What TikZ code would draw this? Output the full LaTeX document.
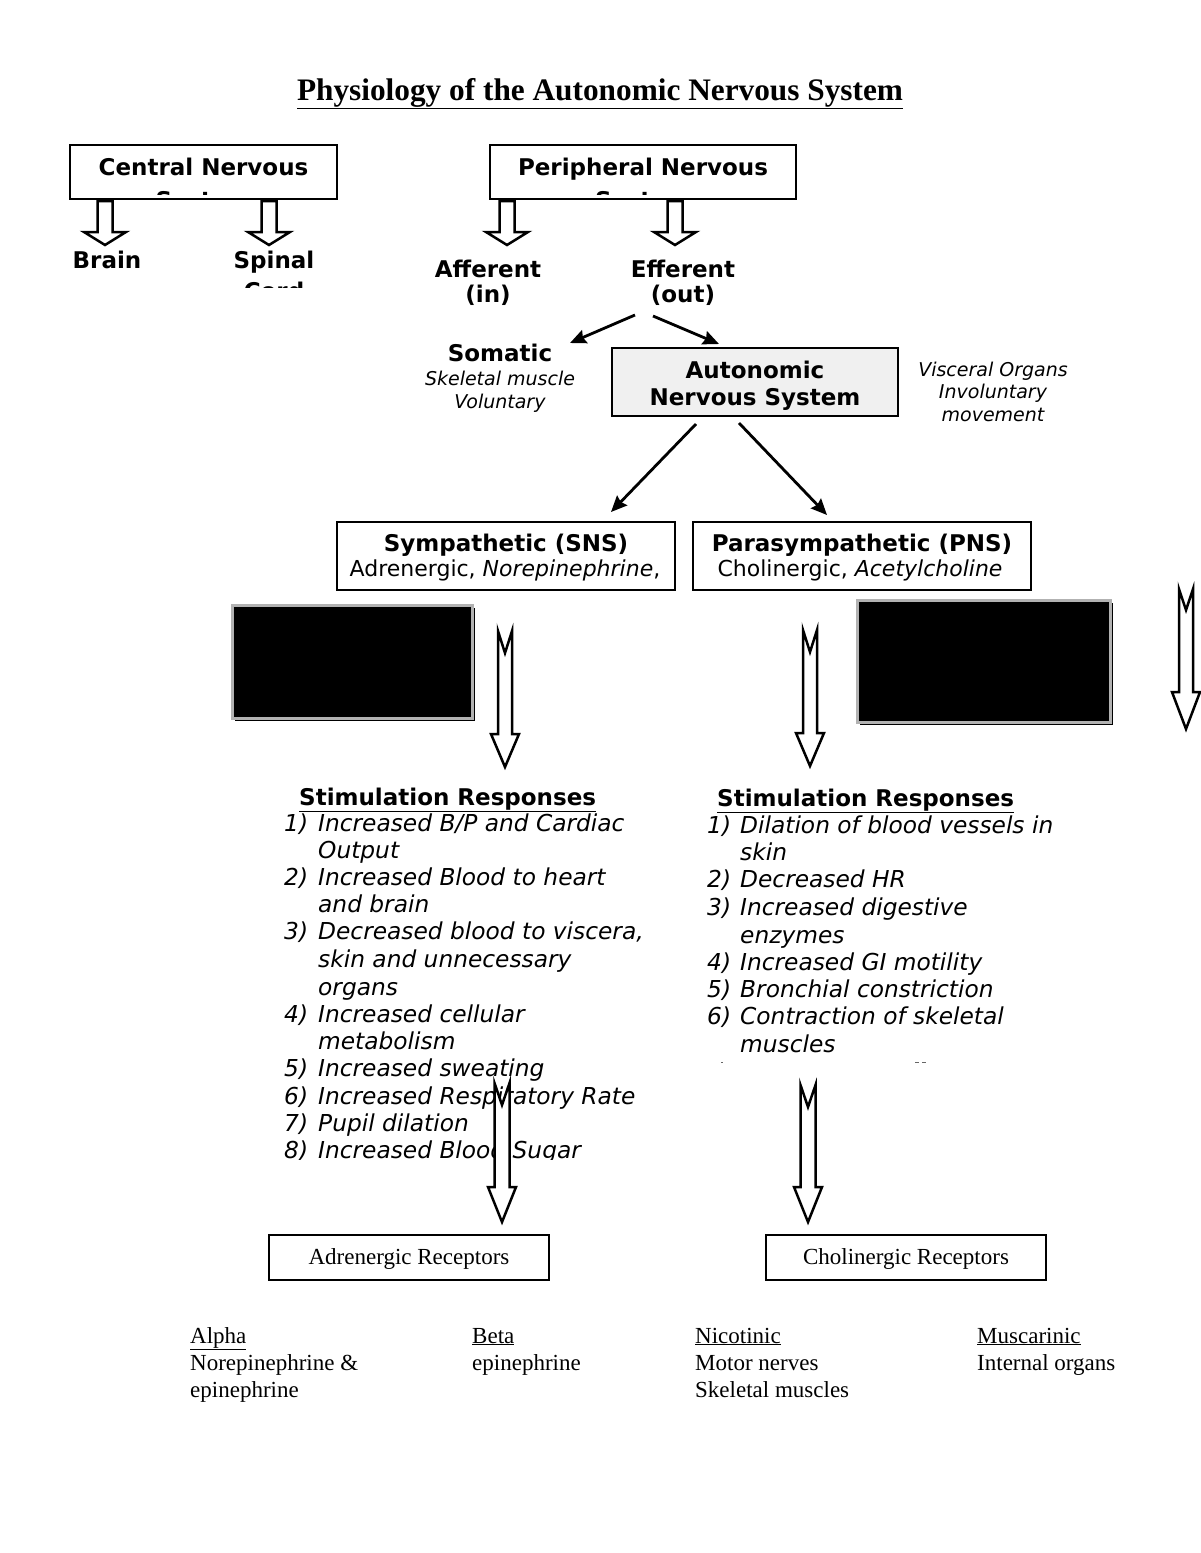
\documentclass[tikz,border=0pt]{standalone}
\usepackage{fontspec}
\setmainfont{DejaVu Sans}
\newfontfamily\serifTNR{Liberation Serif}
\usetikzlibrary{arrows.meta}
\newcommand\myB{\fontsize{23}{27}\selectfont\bfseries}
\newcommand\myI{\fontsize{23.3}{27}\selectfont\itshape}
\newcommand\myS{\fontsize{19}{23}\selectfont\itshape}
\newcommand\myR{\fontsize{22}{26}\selectfont}
\newcommand\myT{\serifTNR\fontsize{23}{27}\selectfont}
% block arrow: cx, ytop, yshoulder, ytip, shaft half width, head half width
\newcommand\BlkArrow[6]{\draw[blk] (#1-#5,#2) -- (#1+#5,#2) -- (#1+#5,#3) -- (#1+#6,#3) -- (#1,#4) -- (#1-#6,#3) -- (#1-#5,#3) -- cycle;}
% notched arrow: cx, ytop, notch, yshoulder, ytip, shaft hw, head hw
\newcommand\NotchArrow[7]{\draw[blk] (#1-#6,#2) -- (#1,#2+#3) -- (#1+#6,#2) -- (#1+#6,#4) -- (#1+#7,#4) -- (#1,#5) -- (#1-#7,#4) -- (#1-#6,#4) -- cycle;}
\begin{document}
\begin{tikzpicture}[x=1pt,y=-1pt,
  txt/.style={inner sep=0pt, anchor=base},
  txtl/.style={inner sep=0pt, anchor=base west},
  box/.style={draw, line width=2.8pt, inner sep=0pt},
  blk/.style={draw=black, fill=white, line width=2.5pt, line join=miter, miter limit=20},
  darr/.style={line width=2.8pt, -{Stealth[length=16pt,width=14pt,inset=2pt]}}]
\useasboundingbox (0,0) rectangle (1200,1553);
\fill[white] (0,0) rectangle (1200,1553);

% title
\node[txt] (title) at (600,100) {\serifTNR\fontsize{31.3}{38}\selectfont\bfseries\underline{Physiology of the Autonomic Nervous System}};

% CNS
\node[box, minimum width=267pt, minimum height=54pt] (cns) at (203.5,172) {};
\node[txt] (cnst) at (203.5,175) {\myB Central Nervous};
\begin{scope}
  \clip (70,146) rectangle (337,194);
  \node[txt] (cnss) at (203.5,208) {\myB System};
\end{scope}
\BlkArrow{105}{201}{232}{245}{7.5}{21}
\BlkArrow{269}{201}{232}{245}{7.5}{21}
\node[txt] (brain) at (107,268) {\myB Brain};
\node[txt] (spinal) at (274,268) {\myB Spinal};
\begin{scope}
  \clip (200,270) rectangle (340,287);
  \node[txt] (cord) at (274,299) {\myB Cord};
\end{scope}

% PNS
\node[box, minimum width=306pt, minimum height=54pt] (pns) at (643,172) {};
\node[txt] (pnst) at (643,175) {\myB Peripheral Nervous};
\begin{scope}
  \clip (490,146) rectangle (796,194);
  \node[txt] (pnss) at (643,208) {\myB System};
\end{scope}
\BlkArrow{507}{201}{232}{245}{7.5}{21}
\BlkArrow{675}{201}{232}{245}{7.5}{21}
\node[txt] (aff) at (488,277) {\myB Afferent};
\node[txt] (affin) at (488,302) {\myB (in)};
\node[txt] (eff) at (683,277) {\myB Efferent};
\node[txt] (effout) at (683,302) {\myB (out)};

% somatic
\node[txt] (som) at (500,361) {\myB Somatic};
\node[txt] (som1) at (500,385) {\myS Skeletal muscle};
\node[txt] (som2) at (500,408) {\myS Voluntary};

% ANS
\node[box, fill=black!6, minimum width=286pt, minimum height=68pt] (ans) at (755,382) {};
\node[txt] (ans1) at (755,378) {\myB Autonomic};
\node[txt] (ans2) at (755,405) {\myB Nervous System};
\node[txt] (visc1) at (993,376) {\myS Visceral Organs};
\node[txt] (visc2) at (993,398) {\myS Involuntary};
\node[txt] (visc3) at (993,421) {\myS movement};

\coordinate (e1) at (635,315);
\coordinate (s1) at (570,343);
\coordinate (e2) at (653,316);
\coordinate (a1) at (719,344);
\draw[darr] (e1) -- (s1);
\draw[darr] (e2) -- (a1);

% SNS / PNS boxes
\node[box, minimum width=338pt, minimum height=68pt] (sns) at (506,556) {};
\node[txt] (sns1) at (506,551) {\myB Sympathetic (SNS)};
\node[txt] (sns2) at (505,576) {\myR Adrenergic, \textit{Norepinephrine},};
\node[box, minimum width=338pt, minimum height=68pt] (psns) at (862,556) {};
\node[txt] (psns1) at (862,551) {\myB Parasympathetic (PNS)};
\node[txt] (psns2) at (860,576) {\myR Cholinergic, \textit{Acetylcholine}};

\coordinate (n1) at (696,424);
\coordinate (n2) at (611,512);
\coordinate (n3) at (739,423);
\coordinate (n4) at (827,515);
\draw[darr] (n1) -- (n2);
\draw[darr] (n3) -- (n4);

% black boxes
\fill[black] (235,608) rectangle (475,721);
\draw[black!30, fill=black, line width=3pt] (232,605) rectangle (472,718);
\fill[black] (860,603) rectangle (1113,725);
\draw[black!30, fill=black, line width=3pt] (857,600) rectangle (1110,722);

% notched arrows (upper)
\NotchArrow{505}{631}{22}{734}{767}{7}{14}
\NotchArrow{810}{630}{22}{733}{766}{7}{14}
\NotchArrow{1186}{589}{21}{692}{729}{7}{14}

% left list
\node[txtl] (lh) at (299,805) {\myB\underline{Stimulation Responses}};
\begin{scope}
\clip (260,810) rectangle (700,1159);
\foreach \yy/\nn/\tt [count=\i] in {
  831/{1)}/{Increased B/P and Cardiac},
  858/{}/{Output},
  885/{2)}/{Increased Blood to heart},
  912/{}/{and brain},
  939/{3)}/{Decreased blood to viscera,},
  967/{}/{skin and unnecessary},
  995/{}/{organs},
  1022/{4)}/{Increased cellular},
  1049/{}/{metabolism},
  1076/{5)}/{Increased sweating},
  1104/{6)}/{Increased Respiratory Rate},
  1131/{7)}/{Pupil dilation},
  1158/{8)}/{Increased Blood Sugar}}{
  \node[txtl] (ln\i) at (284,\yy) {\myI \nn};
  \node[txtl] (lt\i) at (318,\yy) {\myI \tt};
}
\end{scope}

% right list
\node[txtl] (rh) at (717,806) {\myB\underline{Stimulation Responses}};
\foreach \yy/\nn/\tt [count=\i] in {
  833/{1)}/{Dilation of blood vessels in},
  860/{}/{skin},
  887/{2)}/{Decreased HR},
  915/{3)}/{Increased digestive},
  943/{}/{enzymes},
  970/{4)}/{Increased GI motility},
  997/{5)}/{Bronchial constriction},
  1024/{6)}/{Contraction of skeletal},
  1052/{}/{muscles}}{
  \node[txtl] (rn\i) at (707,\yy) {\myI \nn};
  \node[txtl] (rt\i) at (740,\yy) {\myI \tt};
}
\draw[line width=1pt, black!60] (721,1062) -- (723,1062);
\draw[line width=1pt, black!60] (915,1062) -- (919,1062) (922,1062) -- (926,1062);

% lower notched arrows (drawn over the text)
\NotchArrow{502}{1083}{22}{1187}{1222}{7.5}{14}
\NotchArrow{808}{1085}{22}{1187}{1222}{7.5}{14}

% receptor boxes
\node[box, minimum width=280pt, minimum height=45pt] (adr) at (409,1257.5) {};
\node[txt] (adrt) at (409,1264) {\myT Adrenergic Receptors};
\node[box, minimum width=280pt, minimum height=45pt] (cho) at (906,1257.5) {};
\node[txt] (chot) at (906,1264) {\myT Cholinergic Receptors};

% receptor types
\node[txtl] (alpha) at (190,1343) {\myT\underline{Alpha}};
\node[txtl] (alpha1) at (190,1370) {\myT Norepinephrine \&};
\node[txtl] (alpha2) at (190,1397) {\myT epinephrine};
\node[txtl] (beta) at (472,1343) {\myT\underline{Beta}};
\node[txtl] (beta1) at (472,1370) {\myT epinephrine};
\node[txtl] (nic) at (695,1343) {\myT\underline{Nicotinic}};
\node[txtl] (nic1) at (695,1370) {\myT Motor nerves};
\node[txtl] (nic2) at (695,1397) {\myT Skeletal muscles};
\node[txtl] (mus) at (977,1343) {\myT\underline{Muscarinic}};
\node[txtl] (mus1) at (977,1370) {\myT Internal organs};
\end{tikzpicture}
\end{document}
